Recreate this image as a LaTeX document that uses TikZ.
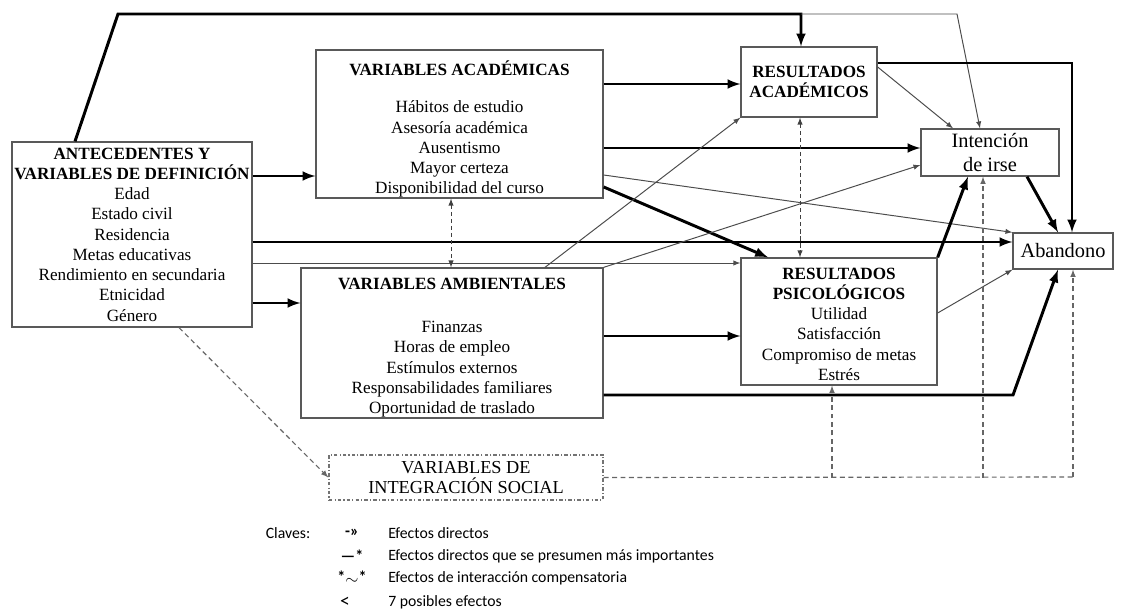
\documentclass[tikz,border=0pt]{standalone}
\usepackage{fontspec}
\setmainfont{Liberation Serif}
\newfontfamily\clavefont{Carlito}
\usetikzlibrary{positioning}
\tikzset{
	caja/.style={draw=black!65, line width=0.9pt, fill=white, align=center, inner sep=0pt, font=\fontsize{12.2}{14.4}\selectfont},
	cajasocial/.style={caja, draw=black!55, dash pattern=on 2.5pt off 1.5pt on 0.8pt off 1.5pt},
	efecto/.style={->, >=latex, draw=black!70, line width=0.7pt},
	efectofuerte/.style={->, >=latex, line width=2.1pt},
	interaccion/.style={<->, >=latex, draw=black!75, line width=0.7pt, dash pattern=on 3pt off 2pt},
	integra/.style={->, >=latex, draw=black!60, line width=0.8pt, dash pattern=on 3.5pt off 2.5pt},
	clave/.style={font=\clavefont\fontsize{11.2}{12}\selectfont, inner sep=0pt},
	simbolo/.style={clave, font=\clavefont\bfseries\fontsize{11.5}{12}\selectfont}
}

\begin{document}
\begin{tikzpicture}[x=0.025cm, y=-0.025cm]
	\useasboundingbox (0,0) rectangle (1123,610);

	% cajas
	\node[caja, minimum width=6cm, minimum height=4.625cm] (ante) at (132,234.5)
		{\textbf{ANTECEDENTES Y}\\ \textbf{VARIABLES DE DEFINICIÓN}\\ Edad\\ Estado civil\\ Residencia\\ Metas educativas\\ Rendimiento en secundaria\\ Etnicidad\\ Género};
	\node[caja, minimum width=7.175cm, minimum height=3.7cm] (acad) at (459.5,124)
		{\rule{0pt}{18pt}\textbf{VARIABLES ACADÉMICAS}\\[12pt] Hábitos de estudio\\ Asesoría académica\\ Ausentismo\\ Mayor certeza\\ Disponibilidad del curso};
	\node[caja, minimum width=7.55cm, minimum height=3.75cm] (amb) at (452,343)
		{\rule{0pt}{15pt}\textbf{VARIABLES AMBIENTALES}\\[16pt] Finanzas\\ Horas de empleo\\ Estímulos externos\\ Responsabilidades familiares\\ Oportunidad de traslado};
	\node[caja, minimum width=3.4cm, minimum height=1.75cm] (resA) at (809,82)
		{\textbf{RESULTADOS}\\ \textbf{ACADÉMICOS}};
	\node[caja, minimum width=4.9cm, minimum height=3.175cm] (psic) at (839,321.5)
		{\rule{0pt}{12pt}\textbf{RESULTADOS}\\ \textbf{PSICOLÓGICOS}\\ Utilidad\\ Satisfacción\\ Compromiso de metas\\ Estrés};
	\node[caja, minimum width=3.45cm, minimum height=1.175cm, font=\fontsize{14.5}{17}\selectfont] (irse) at (990,152.5)
		{Intención\\ de irse};
	\node[caja, minimum width=2.5cm, minimum height=0.9cm, font=\fontsize{14.5}{16}\selectfont] (aband) at (1063,251) {Abandono};
	\node[cajasocial, minimum width=6.85cm, minimum height=1.125cm, font=\fontsize{13}{14.2}\selectfont] (integ) at (466,477.5)
		{VARIABLES DE\\ INTEGRACIÓN SOCIAL};

	% puntos de quiebre
	\coordinate (arriba) at (118,14);
	\coordinate (cruce) at (801,14);
	\coordinate (finA) at (957,14);
	\coordinate (esquina) at (1072,63);
	\coordinate (bajo) at (1013,395);
	\coordinate (social) at (1073,477);

	% desde antecedentes
	\draw[efectofuerte] (ante.north -| 75,0) -- (arriba) -- (cruce) -- (resA.north -| cruce);
	\draw[efecto] (cruce) -- (finA) -- (irse.north -| 980,0);
	\draw[efectofuerte] (ante.east |- 0,176) -- (acad.west |- 0,176);
	\draw[efectofuerte] (ante.east |- 0,242) -- (aband.west |- 0,242);
	\draw[efecto] (ante.east |- 0,263) -- (psic.west |- 0,263);
	\draw[efectofuerte] (ante.east |- 0,303) -- (amb.west |- 0,303);
	\draw[integra] (ante.south -| 179,0) -- (integ.west);

	% desde variables academicas
	\draw[efectofuerte] (acad.east |- 0,84) -- (resA.west |- 0,84);
	\draw[efectofuerte] (acad.east |- 0,148) -- (irse.west |- 0,148);
	\draw[efecto] (acad.east |- 0,175) -- (aband.north west);
	\draw[efectofuerte] (acad.east |- 0,187) -- (psic.north -| 768,0);
	\draw[interaccion] (acad.south -| 451,0) -- (amb.north -| 451,0);

	% desde variables ambientales
	\draw[efecto] (amb.north -| 545,0) -- (resA.south west);
	\draw[efecto] (amb.north east) -- (irse.west |- 0,165);
	\draw[efectofuerte] (amb.east |- 0,336) -- (psic.west |- 0,336);
	\draw[efectofuerte] (amb.east |- 0,395) -- (bajo) -- (aband.south -| 1058,0);

	% resultados
	\draw[efectofuerte] (resA.east |- esquina) -- (esquina) -- (aband.north -| esquina);
	\draw[efecto] (resA.east |- 0,67) -- (irse.north -| 953,0);
	\draw[interaccion] (resA.south -| 800,0) -- (psic.north -| 800,0);
	\draw[efectofuerte] (psic.north east) -- (irse.south -| 968,0);
	\draw[efecto] (psic.east |- 0,313) -- (aband.south west);
	\draw[efectofuerte] (irse.south -| 1027,0) -- (aband.north -| 1058,0);

	% integracion social
	\draw[integra, -] (integ.east) -- (social);
	\draw[integra] (integ.east -| 832,0) -- (psic.south -| 832,0);
	\draw[integra] (integ.east -| 983,0) -- (irse.south -| 983,0);
	\draw[integra] (social) -- (aband.south -| social);

	% claves
	\node[clave] (claves) at (288,533) {Claves:};
	\node[simbolo] (s1) at (352,533) {-»};
	\node[simbolo] (s2) at (352,556) {—*};
	\node[simbolo] (s3) at (352,578) {*\raisebox{-0.3ex}{$\sim$}*};
	\node[clave, font=\clavefont\fontsize{14}{14}\selectfont] (s4) at (345,602) {<};
	\node[clave, anchor=west] (t1) at (388,533) {Efectos directos};
	\node[clave, anchor=west] (t2) at (388,556) {Efectos directos que se presumen más importantes};
	\node[clave, anchor=west] (t3) at (388,578) {Efectos de interacción compensatoria};
	\node[clave, anchor=west] (t4) at (388,602) {7 posibles efectos};
\end{tikzpicture}
\end{document}
